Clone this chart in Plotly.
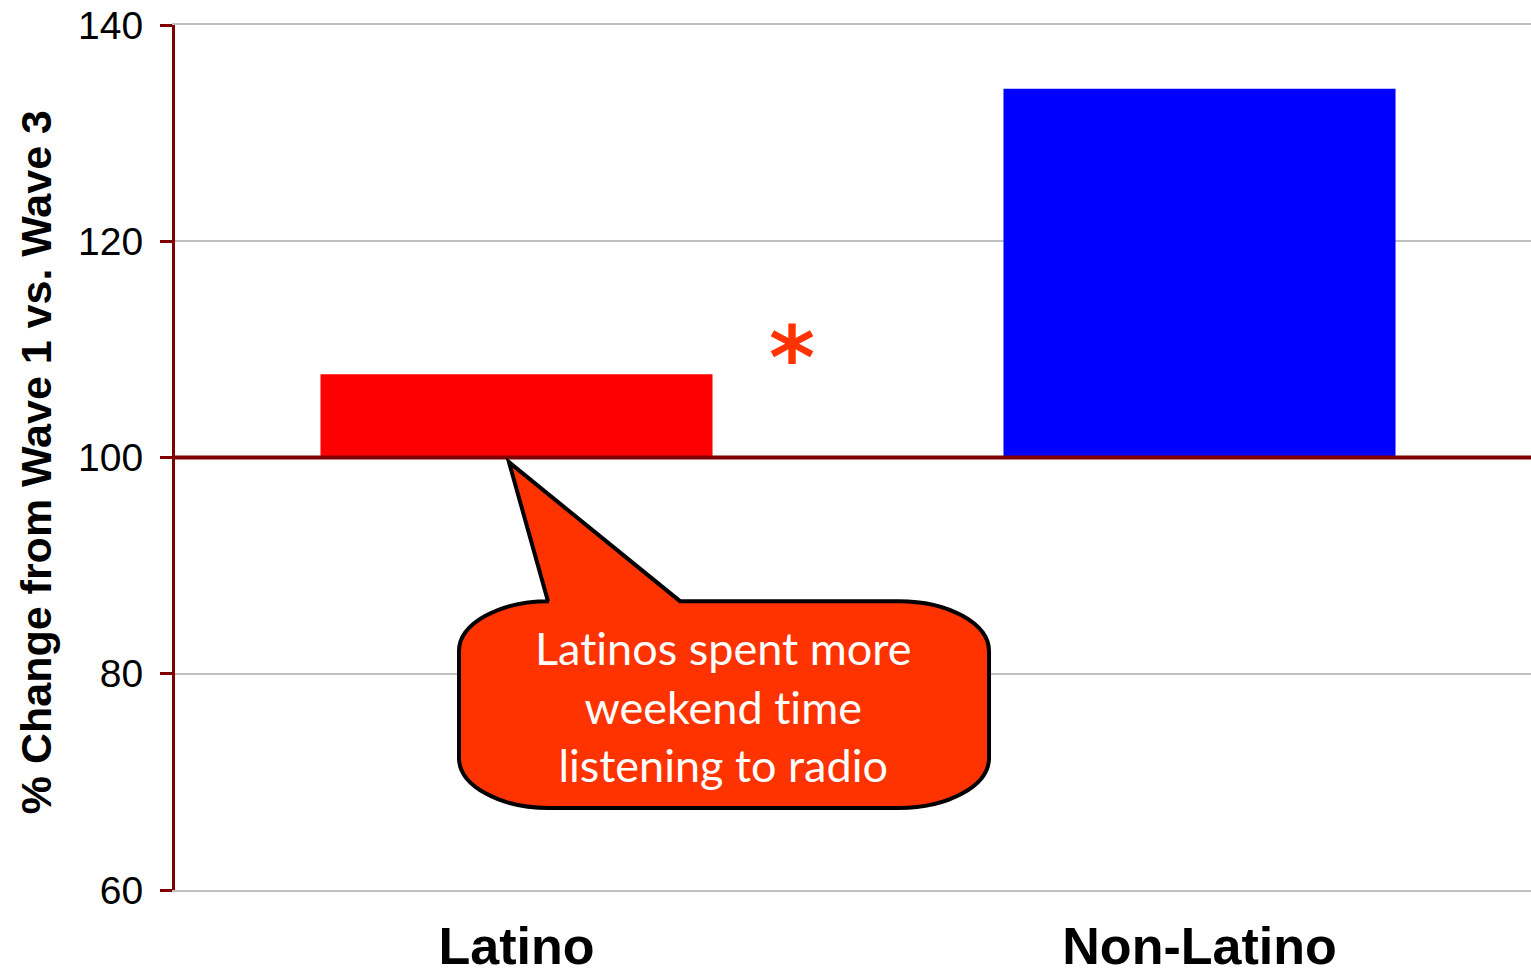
import plotly.graph_objects as go

# ---- data ----
categories = ["Latino", "Non-Latino"]
values = [107.7, 134.1]
bar_colors = ["#FF0000", "#0000FF"]
baseline = 100
y_ticks = [60, 80, 100, 120, 140]
y_title = "% Change from Wave 1 vs. Wave 3"
callout_lines = ["Latinos spent more", "weekend time", "listening to radio"]
sig_mark = "*"

# ---- layout constants ----
W, H = 1531, 977
OFF = 0  # body margin removed by post_script
PL, PR, PT, PB = 175, 1531, 24.5, 890  # plot area in screenshot pixels
ML, MT = PL - OFF, PT - OFF
MR = W - (PR - OFF)
MB = H - (PB - OFF)
PW, PH = PR - PL, PB - PT


def px2paper(px, py):
    return (px - PL) / PW, (PB - py) / PH


fig = go.Figure()
fig.add_trace(go.Bar(
    x=list(range(len(categories))),
    y=[v - baseline for v in values],
    base=baseline,
    marker=dict(color=bar_colors, line=dict(width=0)),
    width=0.574,
    showlegend=False,
))


def P(x, y):
    a, b = px2paper(x, y)
    return f"{a:.5f},{b:.5f}"


# callout (wedge rounded-rect) geometry in screenshot pixels
x0, x1, y0, y1 = 459, 989, 601, 808
rx, ry = 90, 50
k = 0.55
tip = (509, 462)
wl, wr = 548, 680
path = (
    f"M {P(x0 + rx, y0)} L {P(wl, y0)} L {P(*tip)} L {P(wr, y0)} L {P(x1 - rx, y0)} "
    f"C {P(x1 - rx + k*rx, y0)} {P(x1, y0 + ry - k*ry)} {P(x1, y0 + ry)} "
    f"L {P(x1, y1 - ry)} "
    f"C {P(x1, y1 - ry + k*ry)} {P(x1 - rx + k*rx, y1)} {P(x1 - rx, y1)} "
    f"L {P(x0 + rx, y1)} "
    f"C {P(x0 + rx - k*rx, y1)} {P(x0, y1 - ry + k*ry)} {P(x0, y1 - ry)} "
    f"L {P(x0, y0 + ry)} "
    f"C {P(x0, y0 + ry - k*ry)} {P(x0 + rx - k*rx, y0)} {P(x0 + rx, y0)} Z"
)

fig.add_shape(type="line", xref="paper", yref="y", x0=0, x1=1, y0=baseline, y1=baseline,
              line=dict(color="#800000", width=4), layer="above")
fig.add_shape(type="path", xref="paper", yref="paper", path=path,
              fillcolor="#FF3300", line=dict(color="#000000", width=4), layer="above")

callout_text = "<br>".join(
    f'<span style="font-variant-ligatures:none">{ln}</span>' for ln in callout_lines)
cx, cy = px2paper(723, 706)
fig.add_annotation(xref="paper", yref="paper", x=cx, y=cy, text=callout_text,
                   showarrow=False, font=dict(family="Lato", size=45, color="#FFFFFF"),
                   align="center", xanchor="center", yanchor="middle")

ax_, ay_ = px2paper(792, 357)
fig.add_annotation(xref="paper", yref="paper", x=ax_, y=ay_, text=f"<b>{sig_mark}</b>",
                   showarrow=False, font=dict(family="DejaVu Sans", size=88, color="#FF3300"),
                   xanchor="center", yanchor="middle")

tx, ty = px2paper(36, 462)
fig.add_annotation(xref="paper", yref="paper", x=tx, y=ty, text=f"<b>{y_title}</b>",
                   textangle=-90, showarrow=False,
                   font=dict(family="Liberation Sans", size=43, color="#000000"),
                   xanchor="center", yanchor="middle")

fig.update_layout(
    width=W, height=H,
    margin=dict(l=ML, r=MR, t=MT, b=MB),
    paper_bgcolor="white", plot_bgcolor="white",
    xaxis=dict(
        range=[-0.5, -0.5 + PW / 683],
        tickmode="array", tickvals=list(range(len(categories))),
        ticktext=[f"<b>{c}</b>" for c in categories],
        tickfont=dict(family="Liberation Sans", size=52, color="#000000"),
        showgrid=False, showline=True, linecolor="#C0C0C0", linewidth=2, mirror=True,
        zeroline=False, ticks="",
        ticklabelstandoff=10, automargin=False,
    ),
    yaxis=dict(
        range=[60, 140], tickmode="array", tickvals=y_ticks,
        tickfont=dict(family="Liberation Sans", size=39, color="#000000"),
        showgrid=True, gridcolor="#C0C0C0", gridwidth=2,
        showline=True, linecolor="#800000", linewidth=3,
        ticks="outside", ticklen=12, tickwidth=3, tickcolor="#800000",
        zeroline=False, ticklabelstandoff=9, automargin=False,
        ticklabeloverflow="allow",
    ),
)

fig.write_html(
    "out.html",
    config={"displayModeBar": False},
    post_script="document.body.style.margin='0';document.body.style.overflow='hidden';",
)
